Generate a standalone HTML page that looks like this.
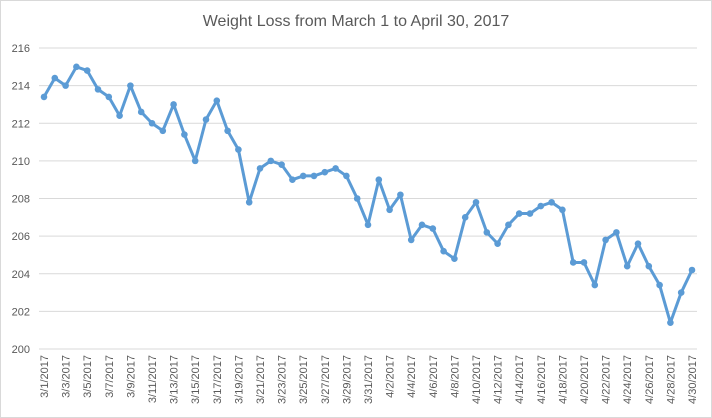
<!DOCTYPE html>
<html><head><meta charset="utf-8"><style>
body{margin:0;background:#fff;}
svg{display:block;font-family:"Liberation Sans",sans-serif;}
</style></head><body>
<svg id="c" width="712" height="418">
<rect x="0.5" y="0.5" width="711" height="417" fill="#fff" stroke="#d9d9d9"/>
<text x="356" y="26" text-anchor="middle" font-size="16" fill="#595959">Weight Loss from March 1 to April 30, 2017</text>
<g id="grid"></g><g id="ylab"></g><g id="xlab"></g><g id="series"></g>
</svg>
<script>
const yTicks=[200,202,204,206,208,210,212,214,216];
const weights=[213.4,214.4,214.0,215.0,214.8,213.8,213.4,212.4,214.0,212.6,212.0,211.6,213.0,211.4,210.0,212.2,213.2,211.6,210.6,207.8,209.6,210.0,209.8,209.0,209.2,209.2,209.4,209.6,209.2,208.0,206.6,209.0,207.4,208.2,205.8,206.6,206.4,205.2,204.8,207.0,207.8,206.2,205.6,206.6,207.2,207.2,207.6,207.8,207.4,204.6,204.6,203.4,205.8,206.2,204.4,205.6,204.4,203.4,201.4,203.0,204.2];
const dates=[];
for(let d=1;d<=31;d++)dates.push('3/'+d+'/2017');
for(let d=1;d<=30;d++)dates.push('4/'+d+'/2017');
const NS='http://www.w3.org/2000/svg';
const X0=44,X1=692,Y0=349,Y1=48;
const xs=i=>X0+(X1-X0)*i/(dates.length-1);
const ys=v=>Y0-(v-200)/(216-200)*(Y0-Y1);
function mk(t,a,p){const e=document.createElementNS(NS,t);for(const k in a)e.setAttribute(k,a[k]);p.appendChild(e);return e;}
const grid=document.getElementById('grid'),ylab=document.getElementById('ylab'),xlab=document.getElementById('xlab'),ser=document.getElementById('series');
yTicks.forEach(v=>{
 const l=mk('line',{x1:39,x2:697,y1:ys(v),y2:ys(v),stroke:'#d9d9d9','stroke-width':1},grid);
 
 
 const t=mk('text',{x:30,y:ys(v)+4,'text-anchor':'end','font-size':11,fill:'#595959'},ylab);
 t.textContent=v;
 
 
});
dates.forEach((d,i)=>{
 if(i%2)return;
 const x=xs(i),y=355;
 const t=mk('text',{x:x,y:y,transform:`rotate(-90 ${x} ${y})`,'text-anchor':'end','font-size':11,fill:'#595959',dy:'4'},xlab);
 t.textContent=d;
 
 
});
const pl=mk('polyline',{points:weights.map((v,i)=>xs(i)+','+ys(v)).join(' '),fill:'none',stroke:'#5b9bd5','stroke-width':3,'stroke-linejoin':'round'},ser);


weights.forEach((v,i)=>{
 const c=mk('circle',{cx:xs(i),cy:ys(v),r:3.3,fill:'#5b9bd5'},ser);
 
 
});
</script>
</body></html>
